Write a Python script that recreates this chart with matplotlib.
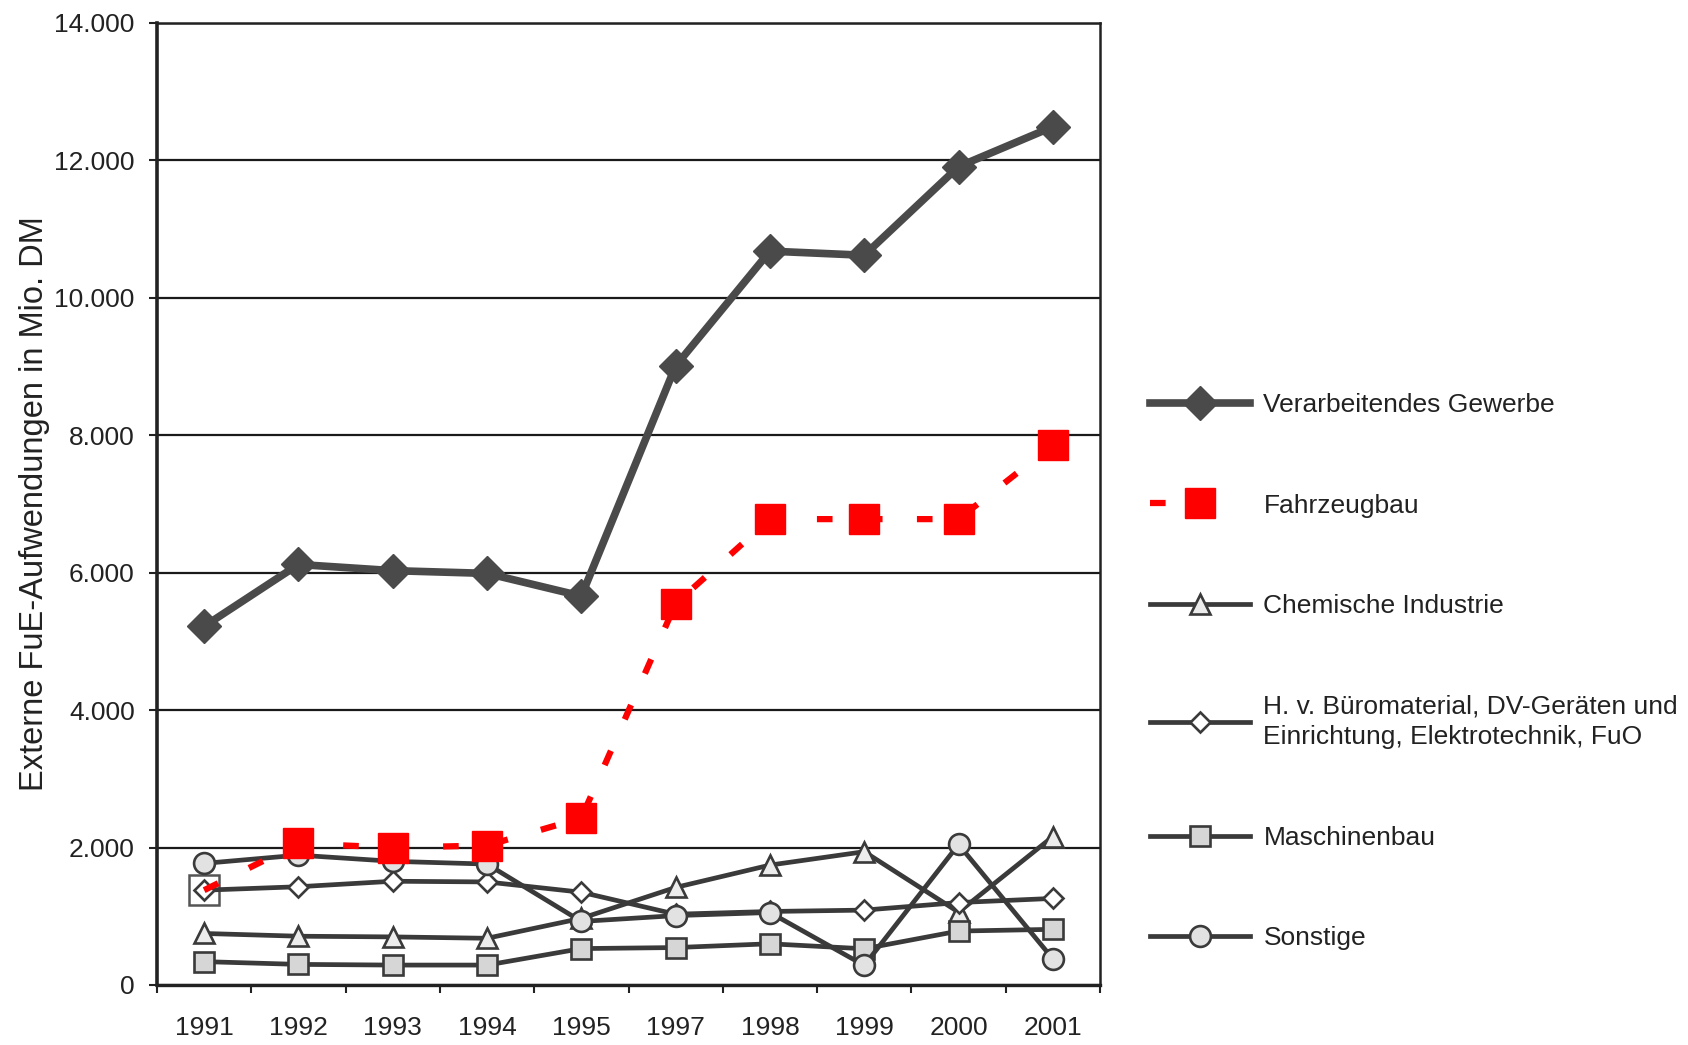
import matplotlib
matplotlib.use("Agg")
import matplotlib.pyplot as plt
import numpy as np
from matplotlib import font_manager

# ---------------- data ----------------
years = ['1991', '1992', '1993', '1994', '1995', '1997', '1998', '1999', '2000', '2001']
verarbeitendes = [5220, 6120, 6030, 5990, 5660, 9010, 10680, 10620, 11910, 12490]
fahrzeugbau = [1380, 2060, 2000, 2030, 2430, 5550, 6780, 6780, 6780, 7860]
chemische = [750, 710, 700, 680, 970, 1420, 1745, 1940, 1060, 2160]
buero = [1380, 1430, 1510, 1500, 1350, 1030, 1070, 1090, 1200, 1260]
maschinenbau = [340, 300, 290, 290, 530, 545, 600, 527, 785, 810]
sonstige = [1770, 1890, 1800, 1760, 925, 1010, 1055, 285, 2045, 380]

labels = ['Verarbeitendes Gewerbe', 'Fahrzeugbau', 'Chemische Industrie',
          'H. v. Büromaterial, DV-Geräten und\nEinrichtung, Elektrotechnik, FuO',
          'Maschinenbau', 'Sonstige']
yticks = [0, 2000, 4000, 6000, 8000, 10000, 12000, 14000]
ytick_labels = ['0', '2.000', '4.000', '6.000', '8.000', '10.000', '12.000', '14.000']
ylabel = 'Externe FuE-Aufwendungen in Mio. DM'

# ---------------- fonts ----------------
names = {f.name for f in font_manager.fontManager.ttflist}
narrow = 'Liberation Sans Narrow' if 'Liberation Sans Narrow' in names else 'Liberation Sans'
regular = 'Liberation Sans'
plt.rcParams['font.family'] = [narrow, 'DejaVu Sans']

# ---------------- figure ----------------
fig = plt.figure(figsize=(16.88, 10.45), dpi=100)
fig.patch.set_facecolor('white')
L, R, T, B = 157, 1100, 23, 985
ax = fig.add_axes([L / 1688, 1 - B / 1045, (R - L) / 1688, (B - T) / 1045])

x = np.arange(len(years))
dark = '#3a3a3a'
ew = 1.9
slw = 3.4

l_small = []
l_small.append(ax.plot(x, chemische, color=dark, lw=slw, marker='^', ms=15,
                       mfc='#ececec', mec=dark, mew=ew, zorder=3)[0])
l_small.append(ax.plot(x, buero, color=dark, lw=slw, marker='D', ms=10.5,
                       mfc='white', mec=dark, mew=ew, zorder=3)[0])
l_small.append(ax.plot(x, maschinenbau, color=dark, lw=slw, marker='s', ms=15,
                       mfc='#d6d6d6', mec=dark, mew=ew, zorder=3)[0])
l_small.append(ax.plot(x, sonstige, color=dark, lw=slw, marker='o', ms=15,
                       mfc='#e2e2e2', mec=dark, mew=ew, zorder=3)[0])

# Fahrzeugbau: first point appears as an open (unfilled) square in the scan
ax.plot(x[:1], fahrzeugbau[:1], linestyle='none', marker='s', ms=21,
        mfc='none', mec='#555555', mew=1.8, zorder=2.5)
l_fz = ax.plot(x, fahrzeugbau, color='#ff0000', lw=4.5, linestyle=(0, (2.5, 5.5)),
               marker='s', ms=21, mfc='#ff0000', mec='#ff0000',
               markevery=list(range(1, len(years))), zorder=4)[0]

l_vg = ax.plot(x, verarbeitendes, color='#4a4a4a', lw=5.5, marker='D', ms=17.5,
               mfc='#4a4a4a', mec='#4a4a4a', zorder=5)[0]

# axes styling
tick_font = [narrow, 'DejaVu Sans']
ax.set_xlim(-0.5, len(years) - 0.5)
ax.set_ylim(0, 14000)
ax.set_yticks(yticks)
ax.set_yticklabels(ytick_labels, fontsize=19, family=tick_font)
ax.set_xticks(x)
ax.set_xticklabels(years, fontsize=19, family=tick_font)
ax.set_xticks(np.arange(-0.5, len(years) + 0.5, 1.0), minor=True)
ax.tick_params(axis='x', which='major', length=0, pad=22, colors='#222222')
ax.tick_params(axis='x', which='minor', length=6, width=1.5, direction='out', color='#222222')
ax.tick_params(axis='y', which='major', length=6, width=1.5, pad=10, colors='#222222')
ax.grid(axis='y', color='#1a1a1a', lw=1.6, zorder=1)
ax.set_axisbelow(True)
for side, lw in [('left', 2.6), ('bottom', 2.4), ('top', 1.8), ('right', 1.8)]:
    ax.spines[side].set_linewidth(lw)
    ax.spines[side].set_color('#222222')

ax.set_ylabel(ylabel, fontsize=23.5, family=[regular, 'DejaVu Sans'], color='#222222')
ax.yaxis.set_label_coords((50 - L) / (R - L), 0.5)

# legend
handles = [l_vg, l_fz] + l_small
leg = fig.legend(handles, labels, loc='upper left',
                 bbox_to_anchor=(1150 / 1688, 1 - 393 / 1045),
                 frameon=False, handlelength=3.8, handletextpad=0.5,
                 labelspacing=2.9, borderpad=0, borderaxespad=0,
                 prop={'family': [narrow, 'DejaVu Sans'], 'size': 19})
for t in leg.get_texts():
    t.set_color('#222222')
    t.set_linespacing(1.35)

fig.savefig('out.png', dpi=100, facecolor='white')
